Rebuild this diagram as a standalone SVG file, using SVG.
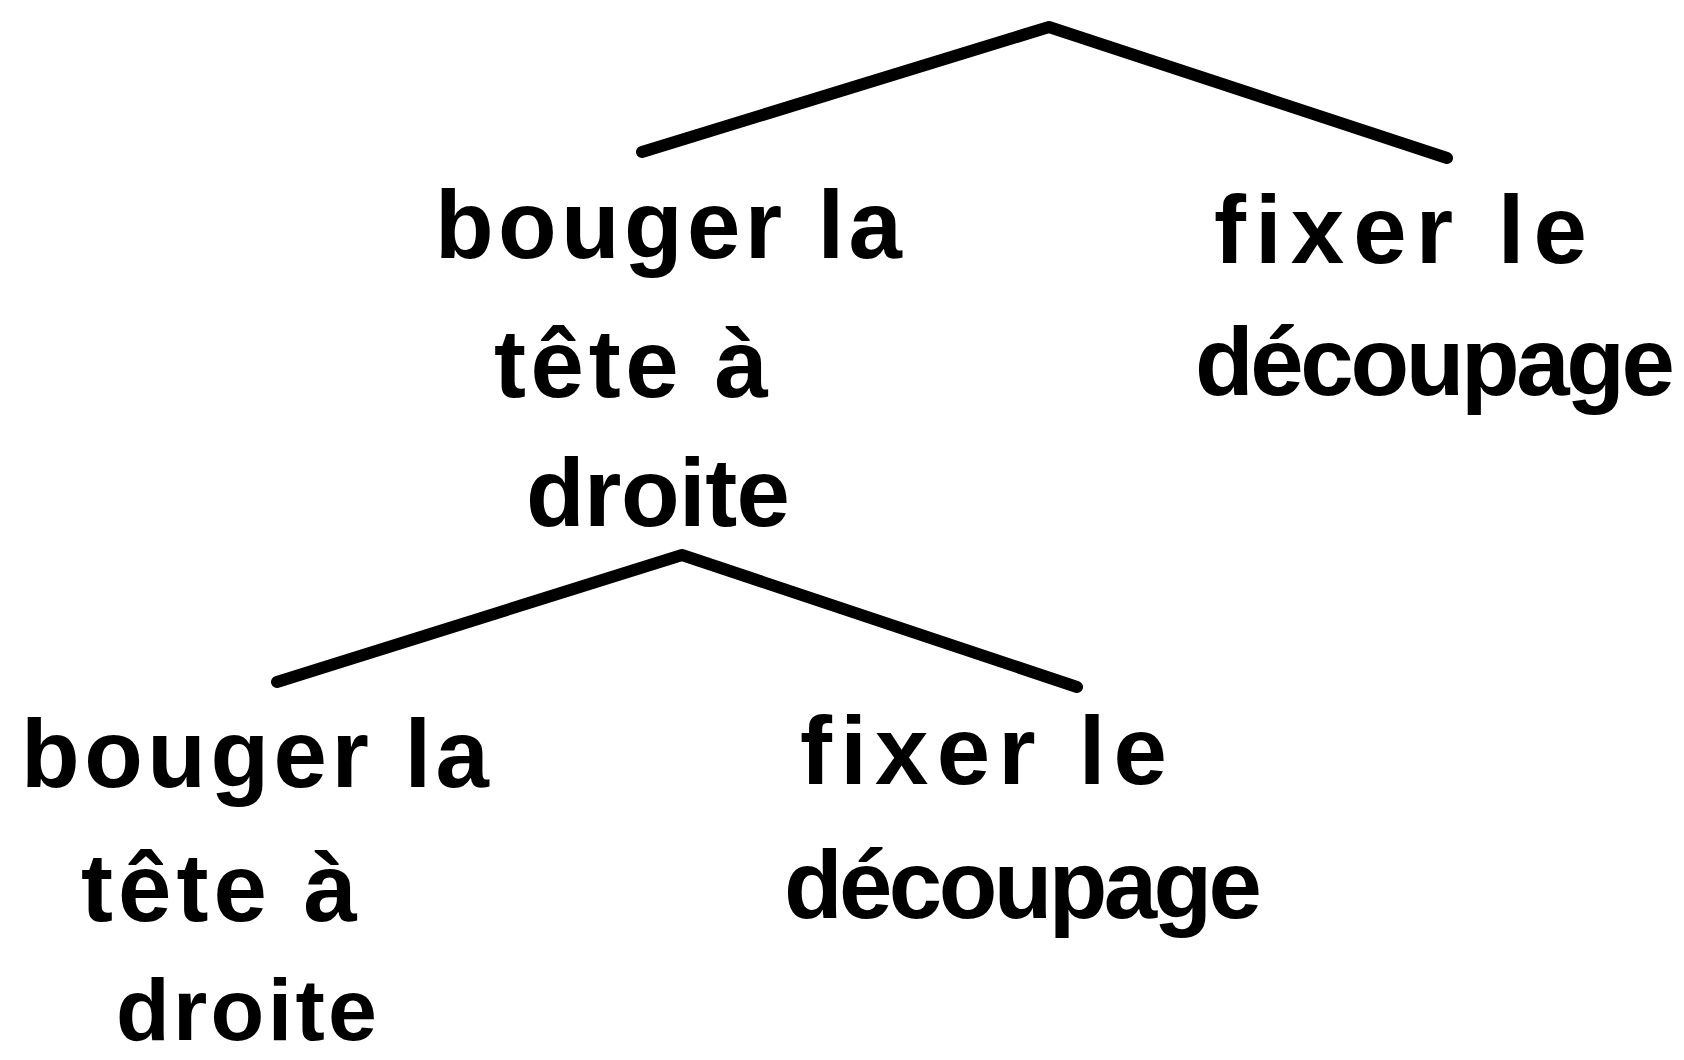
<svg xmlns="http://www.w3.org/2000/svg" width="1684" height="1060" viewBox="0 0 1684 1060">
<style>
.edge{fill:none;stroke:#000;stroke-width:12;stroke-linecap:round;stroke-linejoin:round}
.t{font-family:"Liberation Sans","DejaVu Sans",sans-serif;font-size:96px;font-weight:bold;fill:#000}
</style>
<rect width="1684" height="1060" fill="#fff"/>
<g id="connectors">
<polyline class="edge" points="642,152 1049,27 1447,158"/>
<polyline class="edge" points="277,682 682,555 1077,687"/>
</g>
<g id="n1">
<text class="t" x="435" y="258" textLength="467" lengthAdjust="spacing">bouger la</text>
<text class="t" x="494" y="397" textLength="274" lengthAdjust="spacing">tête à</text>
<text class="t" x="526" y="526" textLength="264" lengthAdjust="spacing">droite</text>
</g>
<g id="n2">
<text class="t" x="1214" y="263" textLength="373" lengthAdjust="spacing">fixer le</text>
<text class="t" x="1195" y="395" textLength="480" lengthAdjust="spacing">découpage</text>
</g>
<g id="n3">
<text class="t" x="21" y="787" textLength="468" lengthAdjust="spacing">bouger la</text>
<text class="t" x="81" y="921" textLength="276" lengthAdjust="spacing">tête à</text>
<text class="t" x="116" y="1040" textLength="261" lengthAdjust="spacing" style="font-size:88px">droite</text>
</g>
<g id="n4">
<text class="t" x="800" y="784" textLength="367" lengthAdjust="spacing">fixer le</text>
<text class="t" x="784" y="918" textLength="478" lengthAdjust="spacing">découpage</text>
</g>
</svg>
